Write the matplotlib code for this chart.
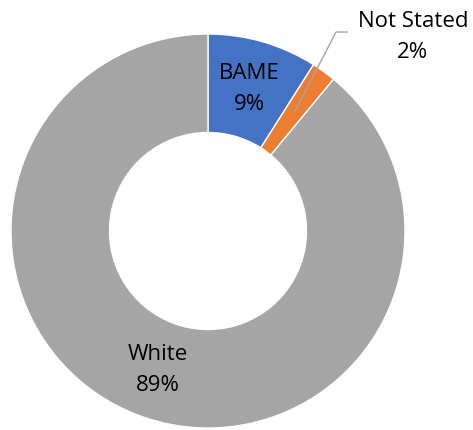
import numpy as np
import matplotlib.pyplot as plt

labels = ['BAME', 'Not Stated', 'White']
shares = [9, 2, 89]
colors = ['#4472C4', '#ED7D31', '#A5A5A5']

plt.rcParams['font.family'] = ['Open Sans', 'DejaVu Sans']

fig = plt.figure(figsize=(4.73, 4.30), dpi=100)
# axes placed so the ring sits left of centre, leaving room for the callout
cx, cy, rad = 208, 231, 197
ax = fig.add_axes([(cx - rad) / 473, (430 - cy - rad) / 430, 2 * rad / 473, 2 * rad / 430])

wedges, _ = ax.pie(shares, colors=colors, startangle=90, counterclock=False,
                   radius=1.0, wedgeprops=dict(width=0.5, edgecolor='white', linewidth=1))
ax.set_xlim(-1, 1)
ax.set_ylim(-1, 1)
ax.set_aspect('equal')
ax.axis('off')

r_lab = 0.75
for w, name, val in zip(wedges, labels, shares):
    mid = np.deg2rad((w.theta1 + w.theta2) / 2)
    x, y = r_lab * np.cos(mid), r_lab * np.sin(mid)
    if name == 'Not Stated':
        # small slice gets a leader line out to the label
        ax.plot([x, 0.65, 0.706], [y, 1.01, 1.01], color='#A5A5A5', lw=1, clip_on=False)
        ax.text(1.04, 0.985, f'{name}\n{val}%', ha='center', va='center',
                fontsize=16, linespacing=1.6, color='#000000')
    else:
        ax.text(x, y, f'{name}\n{val}%', ha='center', va='center',
                fontsize=16, linespacing=1.6, color='#000000')

fig.savefig('out.png', dpi=100)
